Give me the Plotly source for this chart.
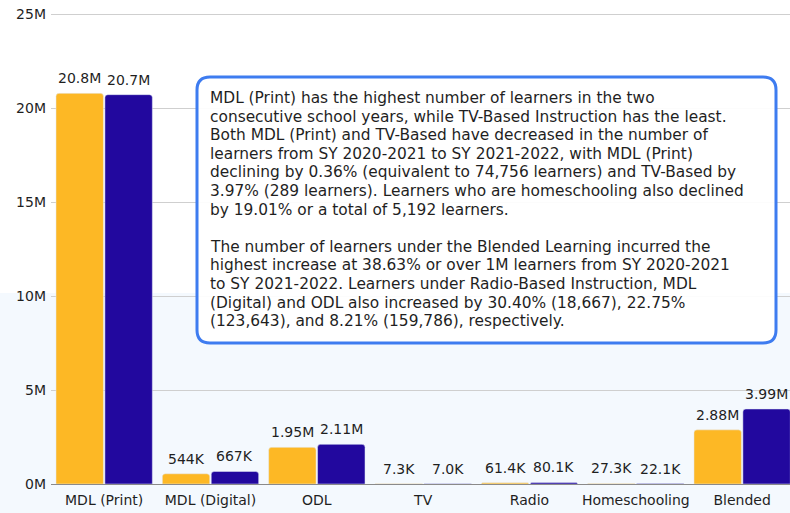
import plotly.graph_objects as go

categories = ["MDL (Print)", "MDL (Digital)", "ODL", "TV", "Radio", "Homeschooling", "Blended"]
sy_2020_2021 = [20780000, 544000, 1950000, 7300, 61400, 27300, 2880000]
sy_2021_2022 = [20710000, 667000, 2110000, 7000, 80100, 22100, 3990000]
labels_2020_2021 = ["20.8M", "544K", "1.95M", "7.3K", "61.4K", "27.3K", "2.88M"]
labels_2021_2022 = ["20.7M", "667K", "2.11M", "7.0K", "80.1K", "22.1K", "3.99M"]
y_tickvals = [0, 5000000, 10000000, 15000000, 20000000, 25000000]
y_ticktext = ["0M", "5M", "10M", "15M", "20M", "25M"]

note_lines = [
    "MDL (Print) has the highest number of learners in the two",
    "consecutive school years, while TV-Based Instruction has the least.",
    "Both MDL (Print) and TV-Based have decreased in the number of",
    "learners from SY 2020-2021 to SY 2021-2022, with MDL (Print)",
    "declining by 0.36% (equivalent to 74,756 learners) and TV-Based by",
    "3.97% (289 learners). Learners who are homeschooling also declined",
    "by 19.01% or a total of 5,192 learners.",
    "",
    "The number of learners under the Blended Learning incurred the",
    "highest increase at 38.63% or over 1M learners from SY 2020-2021",
    "to SY 2021-2022. Learners under Radio-Based Instruction, MDL",
    "(Digital) and ODL also increased by 30.40% (18,667), 22.75%",
    "(123,643), and 8.21% (159,786), respectively.",
]

W, H = 790, 513
L, R, T, B = 51, 0, 8, 29
PW, PH = W - L - R, H - T - B
X_RANGE = [-0.5, 6.45]
Y_RANGE = [0, 25320000]
BARGAP, GROUPGAP = 0.08, 0.03

def px(x):
    return (x - L) / PW

def py(y):
    return (H - B - y) / PH

def rounded_rect(x0, y0, x1, y1, r):
    rx, ry = r / PW, r / PH
    a, b, c, d = px(x0), py(y1), px(x1), py(y0)
    return (f"M {a+rx},{b} L {c-rx},{b} Q {c},{b} {c},{b+ry} L {c},{d-ry} Q {c},{d} {c-rx},{d} "
            f"L {a+rx},{d} Q {a},{d} {a},{d-ry} L {a},{b+ry} Q {a},{b} {a+rx},{b} Z")

FONT = "DejaVu Sans"
TXT = "#1f1f1f"

fig = go.Figure()
fig.add_trace(go.Bar(x=categories, y=sy_2020_2021, name="SY 2020-2021", marker_color="#FDB825"))
fig.add_trace(go.Bar(x=categories, y=sy_2021_2022, name="SY 2021-2022", marker_color="#22089E"))

# value labels above each bar
unit_px = PW / (X_RANGE[1] - X_RANGE[0])
slot_px = unit_px * (1 - BARGAP) / 2
annotations = []
for series, labels, sign in ((sy_2020_2021, labels_2020_2021, -1), (sy_2021_2022, labels_2021_2022, 1)):
    for cat, val, lab in zip(categories, series, labels):
        annotations.append(dict(x=cat, y=val, xref="x", yref="y", text=lab, showarrow=False,
                                xanchor="center", yanchor="bottom", xshift=sign * slot_px / 2, yshift=5,
                                font=dict(size=14, color=TXT, family=FONT)))

# note text, one annotation per line for exact line spacing
for i, line in enumerate(note_lines):
    if not line:
        continue
    annotations.append(dict(xref="paper", yref="paper", x=px(208), y=py(98 + i * 18.6),
                            xanchor="left", yanchor="middle", text=line, showarrow=False, align="left",
                            font=dict(size=15.4, color=TXT, family=FONT)))

shapes = [
    dict(type="rect", xref="paper", yref="paper", x0=px(-5), x1=px(W + 5), y0=py(H + 5), y1=py(293),
         fillcolor="#F4F9FE", line_width=0, layer="below"),
    dict(type="path", xref="paper", yref="paper", path=rounded_rect(197, 77, 776, 343, 13),
         fillcolor="rgba(255,255,255,0.93)", line=dict(color="#3E7CF0", width=3), layer="above"),
]

fig.update_layout(
    width=W, height=H,
    margin=dict(l=L, r=R, t=T, b=B),
    paper_bgcolor="white", plot_bgcolor="rgba(0,0,0,0)",
    barmode="group", bargap=BARGAP, bargroupgap=GROUPGAP, barcornerradius=3,
    showlegend=False,
    font=dict(family=FONT, size=14, color=TXT),
    shapes=shapes,
    annotations=annotations,
    xaxis=dict(range=X_RANGE, showgrid=False, ticks="", showline=False, ticklabelstandoff=6,
               tickfont=dict(size=14, color=TXT, family=FONT)),
    yaxis=dict(range=Y_RANGE, tickvals=y_tickvals, ticktext=y_ticktext,
               showgrid=True, gridcolor="#cfcfcf", gridwidth=1,
               zeroline=True, zerolinecolor="#8a8a8a", zerolinewidth=1,
               tickfont=dict(size=14, color=TXT, family=FONT), ticklabelstandoff=4),
)

fig.write_html("out.html", config={"displayModeBar": False},
               post_script="document.body.style.margin='0';document.body.style.overflow='hidden';")
